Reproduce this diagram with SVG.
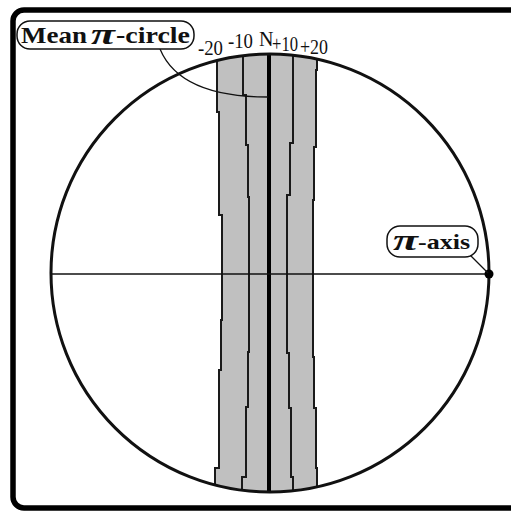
<svg xmlns="http://www.w3.org/2000/svg" width="511" height="511" viewBox="0 0 511 511">
  <style>
    .ln { fill: none; stroke: #111; }
    .band { fill: none; stroke: #1a1a1a; stroke-width: 2; }
    .lbl { font-family: "Liberation Serif", "DejaVu Serif", serif; fill: #111; }
    .bold { font-weight: bold; }
    .pi { font-style: italic; font-weight: bold; }
    .box { fill: #fff; stroke: #111; stroke-width: 1.5; }
  </style>
  <defs>
    <clipPath id="circ">
      <circle cx="270" cy="273" r="219"/>
    </clipPath>
  </defs>
  <rect x="0" y="0" width="511" height="511" fill="#fff"/>
  <g id="frame">
    <rect x="13" y="10" width="560" height="498" rx="11" ry="11" fill="none" stroke="#000" stroke-width="5.5"/>
  </g>
  <g id="bands" clip-path="url(#circ)">
    <polygon fill="#c0c0c0" points="217,40 217,112 219,112 219,215 222,215 222,320 221,320 221,370 219,370 219,468 215,468 215,505 317,505 317,468 316,468 316,408 314,408 314,357 313,357 313,200 314,200 314,147 316,147 316,70 317,70 317,40"/>
    <polyline class="band" points="217,40 217,112 219,112 219,215 222,215 222,320 221,320 221,370 219,370 219,468 215,468 215,505"/>
    <polyline class="band" points="243,40 243,95 246,95 246,145 248,145 248,197 249,197 249,352 248,352 248,407 246,407 246,477 242,477 242,505"/>
    <polyline class="band" points="293,40 293,143 290,143 290,195 287,195 287,353 289,353 289,408 291,408 291,477 293,477 293,505"/>
    <polyline class="band" points="317,40 317,70 316,70 316,147 314,147 314,200 313,200 313,357 314,357 314,408 316,408 316,468 317,468 317,505"/>
    <line x1="269" y1="40" x2="269" y2="505" stroke="#000" stroke-width="4"/>
  </g>
  <g id="circle">
    <circle cx="270" cy="273" r="219" class="ln" stroke-width="3"/>
  </g>
  <g id="axis">
    <line x1="52" y1="274" x2="489" y2="274" class="ln" stroke-width="1.6"/>
    <circle cx="489" cy="274" r="4.5" fill="#000"/>
  </g>
  <g id="connectors">
    <path d="M160,49 Q180,97 268,97" class="ln" stroke-width="1.3"/>
    <line x1="470" y1="255" x2="488" y2="273" class="ln" stroke-width="1.3"/>
  </g>
  <g id="mean-pi-circle">
    <rect x="17" y="21" width="177" height="28" rx="13" ry="13" class="box"/>
    <text class="lbl bold" x="21" y="43" font-size="23" textLength="66" lengthAdjust="spacingAndGlyphs">Mean</text>
    <text class="lbl pi" x="91" y="44" font-size="30" textLength="24" lengthAdjust="spacingAndGlyphs">π</text>
    <text class="lbl bold" x="116" y="43" font-size="23" textLength="74" lengthAdjust="spacingAndGlyphs">-circle</text>
  </g>
  <g id="pi-axis">
    <rect x="387" y="226" width="91" height="31" rx="13" ry="13" class="box"/>
    <text class="lbl pi" x="393" y="250" font-size="30" textLength="25" lengthAdjust="spacingAndGlyphs">π</text>
    <text class="lbl bold" x="418" y="249" font-size="22" textLength="52" lengthAdjust="spacingAndGlyphs">-axis</text>
  </g>
  <g id="ticks">
    <text class="lbl" x="198" y="55" font-size="20" textLength="25" lengthAdjust="spacingAndGlyphs">-20</text>
    <text class="lbl" x="228" y="48" font-size="20" textLength="25" lengthAdjust="spacingAndGlyphs">-10</text>
    <text class="lbl" x="259" y="46" font-size="20">N</text>
    <text class="lbl" x="272" y="51" font-size="20" textLength="26" lengthAdjust="spacingAndGlyphs">+10</text>
    <text class="lbl" x="300" y="54" font-size="20" textLength="28" lengthAdjust="spacingAndGlyphs">+20</text>
  </g>
</svg>
